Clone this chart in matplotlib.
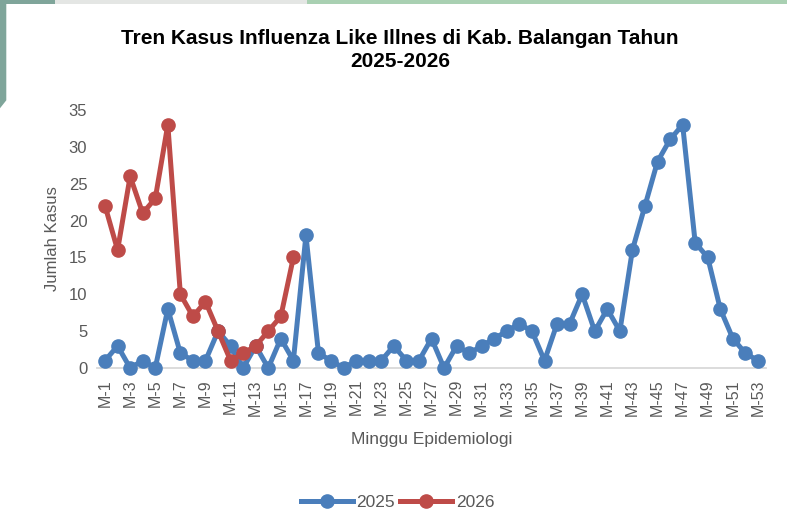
import matplotlib
matplotlib.use("Agg")
from matplotlib import pyplot as plt
from matplotlib.patches import Rectangle, Polygon

weeks = list(range(1, 54))
week_labels = ["M-" + str(w) for w in weeks]

kasus_2025 = [1, 3, 0, 1, 0, 8, 2, 1, 1, 5, 3, 0, 3, 0, 4, 1, 18, 2, 1, 0,
              1, 1, 1, 3, 1, 1, 4, 0, 3, 2, 3, 4, 5, 6, 5, 1, 6, 6, 10, 5,
              8, 5, 16, 22, 28, 31, 33, 17, 15, 8, 4, 2, 1]
kasus_2026 = [22, 16, 26, 21, 23, 33, 10, 7, 9, 5, 1, 2, 3, 5, 7, 15]

blue = "#4a7ebb"
red = "#be4b48"
grey_text = "#595959"

plt.rcParams['font.family'] = ['Liberation Sans', 'DejaVu Sans']

fig = plt.figure(figsize=(7.87, 5.28), dpi=100)

# screenshot frame bits
fig.add_artist(Polygon([[0, 1], [0.008, 1], [0.008, 0.81], [0, 0.795]],
                       closed=True, transform=fig.transFigure,
                       color="#7fa59a", lw=0))
fig.add_artist(Rectangle((0, 0.992), 0.07, 0.008, transform=fig.transFigure,
                         color="#7fa59a", lw=0))
fig.add_artist(Rectangle((0.07, 0.992), 0.32, 0.008, transform=fig.transFigure,
                         color="#e4e6e4", lw=0))
fig.add_artist(Rectangle((0.39, 0.992), 0.61, 0.008, transform=fig.transFigure,
                         color="#a9d0b2", lw=0))

ax = fig.add_axes([97 / 787, 160 / 528, 669 / 787, 258 / 528])

ax.plot(weeks, kasus_2025, marker='o', color=blue, label='2025',
        linewidth=3.6, markersize=9.5, clip_on=False, zorder=3)
ax.plot(weeks[:len(kasus_2026)], kasus_2026, marker='o', color=red,
        label='2026', linewidth=3.6, markersize=9.5, clip_on=False, zorder=4)

ax.set_xlim(0.36, 53.64)
ax.set_ylim(0, 35)
ax.set_yticks(range(0, 36, 5))
ax.set_xticks(weeks[::2])
ax.set_xticklabels(week_labels[::2], rotation=90)

for side in ['top', 'right', 'left']:
    ax.spines[side].set_visible(False)
ax.spines['bottom'].set_color('#d9d9d9')
ax.spines['bottom'].set_linewidth(1.3)

ax.tick_params(axis='x', length=0, pad=8, labelsize=11.5, labelcolor=grey_text)
ax.tick_params(axis='y', length=0, pad=7, labelsize=12, labelcolor=grey_text)

ax.set_ylabel("Jumlah Kasus", fontsize=12, color=grey_text, labelpad=6)
ax.set_xlabel("Minggu Epidemiologi", fontsize=12.5, color=grey_text, labelpad=12)

fig.text(0.508, 0.905, "Tren Kasus Influenza Like Illnes di Kab. Balangan Tahun\n2025-2026",
         ha='center', va='center', fontsize=15, fontweight='bold',
         linespacing=1.3, color='black')

leg = fig.legend(loc='center', bbox_to_anchor=(0.505, 0.048), ncol=2,
                 frameon=False, fontsize=12.5, handlelength=3.0,
                 handletextpad=0.2, columnspacing=0.3)
for t in leg.get_texts():
    t.set_color(grey_text)

plt.savefig("out.png", dpi=100)
